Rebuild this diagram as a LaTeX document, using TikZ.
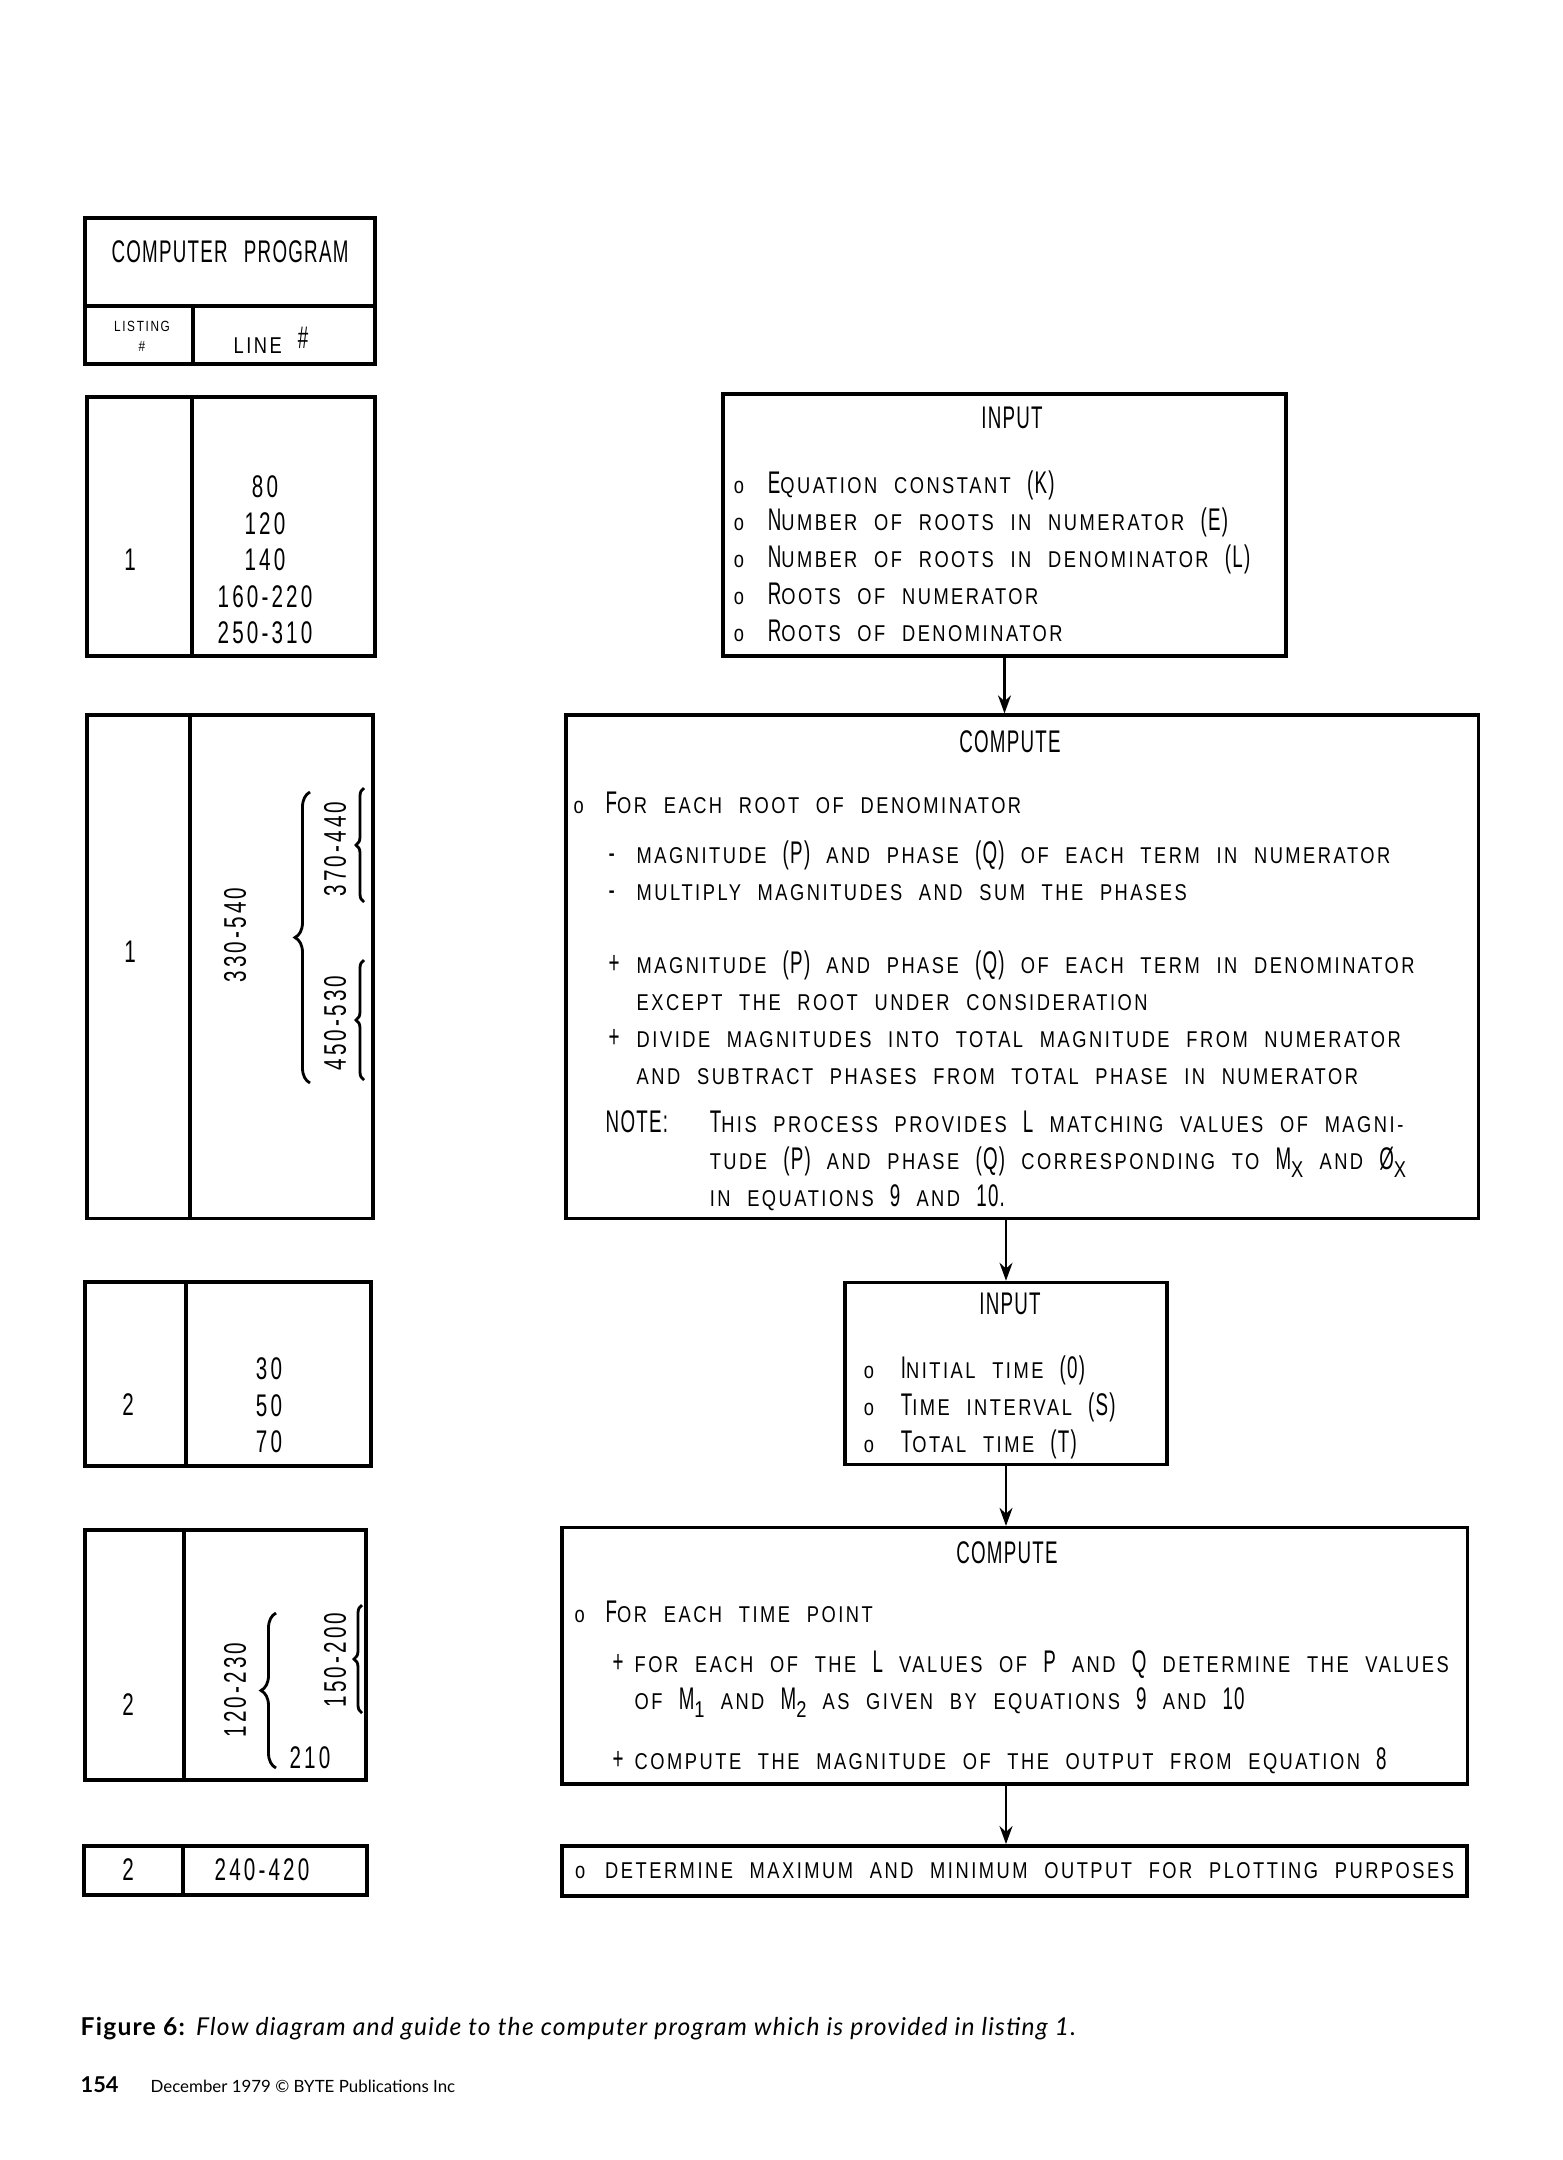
\documentclass[tikz,border=0pt]{standalone}
\usepackage{fontspec}
\usepackage{tikz}
\usetikzlibrary{positioning, arrows.meta, decorations.pathreplacing}

\newfontfamily\leroy[FakeStretch=0.6, LetterSpace=4, WordSpace=2.5]{Liberation Sans}
\newfontfamily\leroydg[FakeStretch=0.66, LetterSpace=10]{Liberation Sans}
\newfontfamily\leroysc[FakeStretch=0.8, LetterSpace=11, WordSpace=2.2]{Liberation Sans}
\newfontfamily\capsans[LetterSpace=5]{Lato}
\newfontfamily\footsans{Lato}
\newcommand{\bigtxt}{\leroy\fontsize{8.9}{10.53}\selectfont}
\newcommand{\numtxt}{\leroydg\fontsize{8.9}{10.4}\selectfont}
\newcommand{\smc}[1]{{\leroysc\fontsize{6.5}{10.53}\selectfont #1}}
\newcommand{\tinyc}{\leroysc\fontsize{4.2}{5.6}\selectfont}
\newcommand{\bul}[1]{\makebox[#1][l]{\smc{o}}}
\setlength{\lineskiplimit}{-20pt}

\begin{document}
\begin{tikzpicture}[x=0.01cm, y=-0.01cm, >={Stealth[length=0.18cm, width=0.13cm]}]
    \tikzstyle{box} = [rectangle, draw, line width=1pt, inner sep=0pt]
    \tikzstyle{cell} = [rectangle, draw, line width=1pt, inner sep=0pt, outer sep=0pt, anchor=north west]
    \tikzstyle{lbl} = [inner sep=0pt, font=\bigtxt]
    \tikzstyle{num} = [inner sep=0pt, font=\numtxt]
    \tikzstyle{title} = [inner sep=0pt, font=\bigtxt]
    \tikzstyle{body} = [inner sep=0pt, font=\bigtxt, align=left, anchor=north west]
    \tikzstyle{flow} = [->, line width=0.6pt]
    \tikzstyle{bigcurly} = [decorate, decoration={brace, amplitude=0.15cm}, line width=0.8pt]
    \tikzstyle{smallcurly} = [decorate, decoration={brace, amplitude=0.08cm}, line width=0.8pt]

    \useasboundingbox (0,0) rectangle (1562,2160);

    % program guide (left)
    \node [cell, minimum width=2.90cm, minimum height=0.88cm] (prog) at (85,218) {};
    \node [cell, minimum width=1.08cm, minimum height=0.58cm] (lst) at (85,306) {};
    \node [cell, minimum width=1.82cm, minimum height=0.58cm, right=0pt of lst] (lno) {};
    \node [lbl] (progt) at (230,252) {COMPUTER PROGRAM};
    \node [lbl, font=\tinyc, align=center] (lstt) at (142,336) {LISTING\\\#};
    \node [lbl] (lnot) at (271,340) {\smc{LINE} \raisebox{0.05cm}{\#}};

    \node [cell, minimum width=1.05cm, minimum height=2.59cm] (r1a) at (87,397) {};
    \node [cell, minimum width=1.83cm, minimum height=2.59cm, right=0pt of r1a] (r1b) {};
    \node [num] (r1n) at (130,560) {1};
    \node [num, align=center, anchor=north] (r1l) at (265,475) {80\\120\\140\\160-220\\250-310};

    \node [cell, minimum width=1.03cm, minimum height=5.03cm] (r2a) at (87,715) {};
    \node [cell, minimum width=1.83cm, minimum height=5.03cm, right=0pt of r2a] (r2b) {};
    \node [num] (r2n) at (130,952) {1};
    \node [num, rotate=90] (r2l) at (235,935) {330-540};
    \draw [bigcurly] (310,1083) -- (310,792);
    \node [num, rotate=90] (r2u) at (335,849) {370-440};
    \draw [smallcurly] (364,902) -- (364,788);
    \node [num, rotate=90] (r2d) at (335,1023) {450-530};
    \draw [smallcurly] (364,1080) -- (364,960);

    \node [cell, minimum width=1.01cm, minimum height=1.84cm] (r3a) at (85,1282) {};
    \node [cell, minimum width=1.85cm, minimum height=1.84cm, right=0pt of r3a] (r3b) {};
    \node [num] (r3n) at (128,1405) {2};
    \node [num, align=center, anchor=north] (r3l) at (269,1357) {30\\50\\70};

    \node [cell, minimum width=0.99cm, minimum height=2.50cm] (r4a) at (85,1530) {};
    \node [cell, minimum width=1.82cm, minimum height=2.50cm, right=0pt of r4a] (r4b) {};
    \node [num] (r4n) at (128,1705) {2};
    \node [num, rotate=90] (r4l) at (235,1690) {120-230};
    \draw [bigcurly] (276,1768) -- (276,1613);
    \node [num] (r4e) at (310,1758) {210};
    \node [num, rotate=90] (r4u) at (335,1660) {150-200};
    \draw [smallcurly] (362,1713) -- (362,1605);

    \node [cell, minimum width=0.99cm, minimum height=0.49cm] (r5a) at (84,1846) {};
    \node [cell, minimum width=1.84cm, minimum height=0.49cm, right=0pt of r5a] (r5b) {};
    \node [num] (r5n) at (128,1870) {2};
    \node [num] (r5l) at (262,1870) {240-420};

    % flow diagram (right)
    \node [box, minimum width=5.63cm, minimum height=2.62cm] (in1) at (1004.5,525) {};
    \node [box, minimum width=9.12cm, minimum height=5.03cm, below=0.555cm of in1, xshift=0.175cm] (cp1) {};
    \node [box, minimum width=3.22cm, minimum height=1.82cm, below=0.605cm of cp1, xshift=-0.16cm] (in2) {};
    \node [box, minimum width=9.05cm, minimum height=2.56cm, below=0.595cm of in2, xshift=0.085cm] (cp2) {};
    \node [box, minimum width=9.04cm, minimum height=0.50cm, below=0.585cm of cp2] (out) {};

    \node [title, below=0.14cm of in1.north, xshift=0.075cm] (in1t) {INPUT};
    \node [title, below=0.17cm of cp1.north, xshift=-0.12cm] (cp1t) {COMPUTE};
    \node [title, below=0.12cm of in2.north, xshift=0.04cm] (in2t) {INPUT};
    \node [title, below=0.15cm of cp2.north, xshift=-0.075cm] (cp2t) {COMPUTE};

    \node [body, below right=0.78cm and 0.12cm of in1.north west] (in1b) {
        \bul{0.34cm}E\smc{QUATION CONSTANT} (K)\\
        \bul{0.34cm}N\smc{UMBER OF ROOTS IN NUMERATOR} (E)\\
        \bul{0.34cm}N\smc{UMBER OF ROOTS IN DENOMINATOR} (L)\\
        \bul{0.34cm}R\smc{OOTS OF NUMERATOR}\\
        \bul{0.34cm}R\smc{OOTS OF DENOMINATOR}
    };
    \node [body, below right=0.776cm and 0.09cm of cp1.north west] (cp1b) {
        \bul{0.32cm}F\smc{OR EACH ROOT OF DENOMINATOR}\\[0.13cm]
        \hspace*{0.35cm}\makebox[0.28cm][l]{-}\smc{MAGNITUDE} (P) \smc{AND PHASE} (Q) \smc{OF EACH TERM IN NUMERATOR}\\
        \hspace*{0.35cm}\makebox[0.28cm][l]{-}\smc{MULTIPLY MAGNITUDES AND SUM THE PHASES}\\[0.36cm]
        \hspace*{0.35cm}\makebox[0.28cm][l]{+}\smc{MAGNITUDE} (P) \smc{AND PHASE} (Q) \smc{OF EACH TERM IN DENOMINATOR}\\
        \hspace*{0.63cm}\smc{EXCEPT THE ROOT UNDER CONSIDERATION}\\
        \hspace*{0.35cm}\makebox[0.28cm][l]{+}\smc{DIVIDE MAGNITUDES INTO TOTAL MAGNITUDE FROM NUMERATOR}\\
        \hspace*{0.63cm}\smc{AND SUBTRACT PHASES FROM TOTAL PHASE IN NUMERATOR}\\[0.11cm]
        \hspace*{0.32cm}\makebox[1.04cm][l]{NOTE:}T\smc{HIS PROCESS PROVIDES} L \smc{MATCHING VALUES OF MAGNI-}\\
        \hspace*{1.36cm}\smc{TUDE} (P) \smc{AND PHASE} (Q) \smc{CORRESPONDING TO} M\raisebox{-0.08cm}{\smc{X}} \smc{AND} Ø\raisebox{-0.08cm}{\smc{X}}\\
        \hspace*{1.36cm}\smc{IN EQUATIONS} 9 \smc{AND} 10.
    };
    \node [body, below right=0.745cm and 0.2cm of in2.north west] (in2b) {
        \bul{0.37cm}I\smc{NITIAL TIME} (0)\\
        \bul{0.37cm}T\smc{IME INTERVAL} (S)\\
        \bul{0.37cm}T\smc{OTAL TIME} (T)
    };
    \node [body, below right=0.746cm and 0.14cm of cp2.north west] (cp2b) {
        \bul{0.31cm}F\smc{OR EACH TIME POINT}\\[0.13cm]
        \hspace*{0.38cm}\makebox[0.22cm][l]{+}\smc{FOR EACH OF THE} L \smc{VALUES OF} P \smc{AND} Q \smc{DETERMINE THE VALUES}\\
        \hspace*{0.60cm}\smc{OF} M\raisebox{-0.08cm}{\smc{1}} \smc{AND} M\raisebox{-0.08cm}{\smc{2}} \smc{AS GIVEN BY EQUATIONS} 9 \smc{AND} 10\\[0.23cm]
        \hspace*{0.38cm}\makebox[0.22cm][l]{+}\smc{COMPUTE THE MAGNITUDE OF THE OUTPUT FROM EQUATION} 8
    };
    \node [body, anchor=west, right=0.14cm of out.west] (outb) {
        \bul{0.30cm}\smc{DETERMINE MAXIMUM AND MINIMUM OUTPUT FOR PLOTTING PURPOSES}
    };

    \draw [flow] (in1.south) -- (in1.south |- cp1.north);
    \draw [flow] (in2.north |- cp1.south) -- (in2.north);
    \draw [flow] (in2.south) -- (in2.south |- cp2.north);
    \draw [flow] (in2.south |- cp2.south) -- (in2.south |- out.north);

    % caption and page footer
    \node [inner sep=0pt, anchor=base west, font=\capsans] (cap) at (80,2035) {\fontsize{7}{9}\selectfont\textbf{Figure 6:} \textit{Flow diagram and guide to the computer program which is provided in listing 1.}};
    \node [inner sep=0pt, anchor=base west, font=\footsans] (foot) at (80,2092) {\fontsize{6.2}{8}\selectfont\textbf{154}\hspace{0.32cm}{\fontsize{4.8}{7}\selectfont December 1979 \textcopyright{} BYTE Publications Inc}};
\end{tikzpicture}
\end{document}
